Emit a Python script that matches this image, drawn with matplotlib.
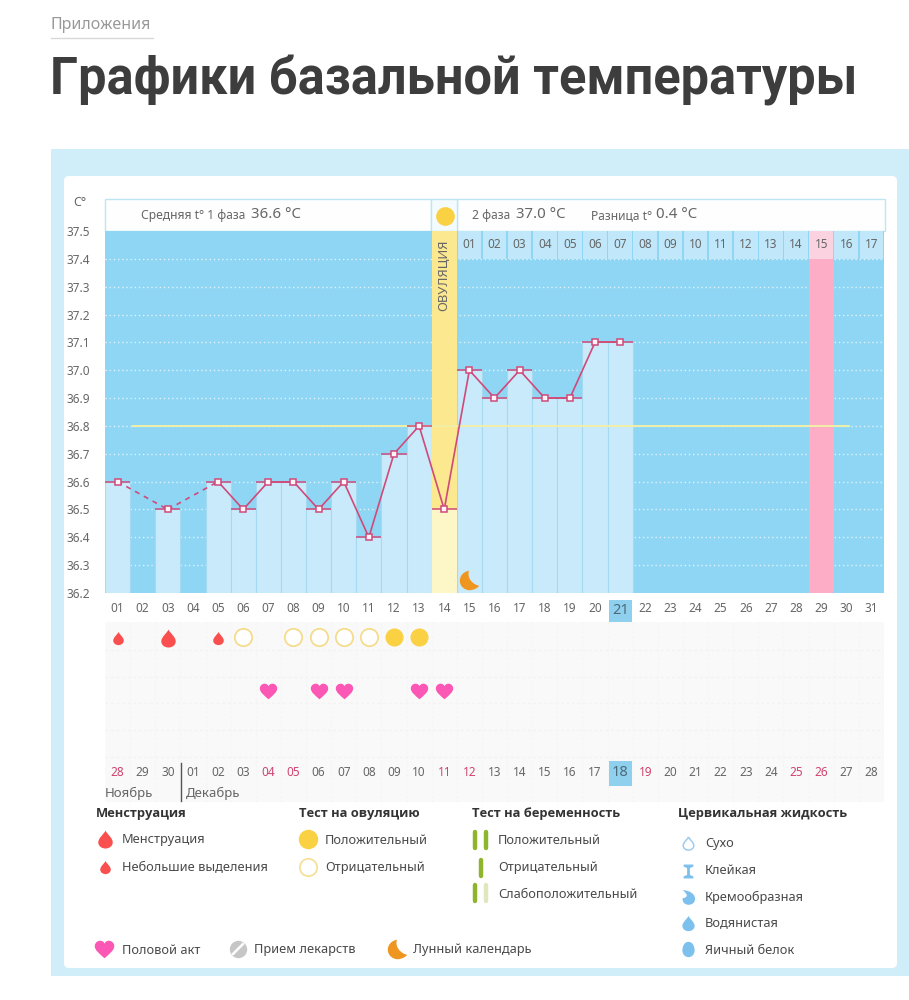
import numpy as np
import matplotlib
matplotlib.use('Agg')
import matplotlib.pyplot as plt
from matplotlib.patches import Rectangle, FancyBboxPatch
from matplotlib.path import Path

plt.rcParams['font.family'] = ['Noto Sans', 'DejaVu Sans']
BOLD = ['Open Sans', 'Roboto', 'DejaVu Sans']
TITLE = ['Roboto', 'Open Sans', 'DejaVu Sans']

W, H = 909, 1000

# --- chart data ---
days = list(range(1, 32))
temps = [36.6, None, 36.5, None, 36.6, 36.5, 36.6, 36.6, 36.5, 36.6, 36.4, 36.7, 36.8,
         36.5, 37.0, 36.9, 37.0, 36.9, 36.9, 37.1, 37.1]
y_ticks = [37.5, 37.4, 37.3, 37.2, 37.1, 37.0, 36.9, 36.8, 36.7, 36.6, 36.5, 36.4, 36.3, 36.2]
cover_line = 36.8
ovulation_day = 14
period_day = 29
today_top = 21
moon_day = 15
moon_temp = 36.247
cycle_labels = ['01', '02', '03', '04', '05', '06', '07', '08', '09', '10', '11', '12',
                '13', '14', '15', '16', '17']
top_labels = ['%02d' % d for d in days]
bottom_labels = ['28', '29', '30'] + ['%02d' % d for d in range(1, 29)]
bottom_red = [1, 7, 8, 14, 15, 22, 28, 29]

menses_heavy = [3]
menses_light = [1, 5]
ovul_pos = [12, 13]
ovul_neg = [6, 8, 9, 10, 11]
intercourse = [7, 9, 10, 13, 14]

# --- colours ---
SKY = '#8fd6f4'
BAR = '#c9eafb'
EDGE = '#a5d9f0'
PINK = '#cf4a7a'
RED = '#f9504f'
YELLOW = '#fad143'
GREY = '#666666'
DARK = '#333333'
GREEN = '#8fb52f'
CERV = '#7cc0ee'
HEART = '#fb57b4'
MOON = '#ef9620'

C4 = Path.CURVE4
drop = Path([(0, 1), (0.15, 0.6), (0.8, 0.2), (0.8, -0.32), (0.8, -0.75), (0.4, -1), (0, -1),
             (-0.4, -1), (-0.8, -0.75), (-0.8, -0.32), (-0.8, 0.2), (-0.15, 0.6), (0, 1)],
            [Path.MOVETO] + [C4] * 12)
heart = Path([(0, -0.9), (-0.5, -0.45), (-1, -0.1), (-1, 0.35), (-1, 0.75), (-0.65, 0.9), (-0.45, 0.9),
              (-0.2, 0.9), (-0.05, 0.75), (0, 0.6), (0.05, 0.75), (0.2, 0.9), (0.45, 0.9),
              (0.65, 0.9), (1, 0.75), (1, 0.35), (1, -0.1), (0.5, -0.45), (0, -0.9)],
             [Path.MOVETO] + [C4] * 18)
moon = Path([(-0.05, 1), (-0.7, 0.9), (-1, 0.4), (-1, 0), (-1, -0.6), (-0.5, -1), (0, -1),
             (0.4, -1), (0.8, -0.8), (1, -0.55), (0.3, -0.4), (-0.3, 0.3), (-0.05, 1)],
            [Path.MOVETO] + [C4] * 12)
sticky = Path([(-0.7, 1), (0.7, 1), (0.7, 0.7), (0.2, 0.5), (0.2, -0.5), (0.7, -0.7), (0.7, -1),
               (-0.7, -1), (-0.7, -0.7), (-0.2, -0.5), (-0.2, 0.5), (-0.7, 0.7), (-0.7, 1)])
cream = Path([(-0.8, 1), (0.1, 1), (0.9, 0.5), (0.9, -0.2), (0.9, -0.7), (0.5, -1), (0, -1),
              (-0.5, -1), (-0.9, -0.6), (-0.8, -0.1), (-0.2, 0), (0.1, 0.3), (-0.8, 1)],
             [Path.MOVETO] + [C4] * 12)
egg = Path([(0, 1), (0.55, 1), (0.8, 0.4), (0.8, -0.1), (0.8, -0.7), (0.4, -1), (0, -1),
            (-0.4, -1), (-0.8, -0.7), (-0.8, -0.1), (-0.8, 0.4), (-0.55, 1), (0, 1)],
           [Path.MOVETO] + [C4] * 12)


def axes_px(x0, y0, x1, y1, **kw):
    # axes placed by pixel box, y counted from the top of the image
    return fig.add_axes([x0 / W, 1 - y1 / H, (x1 - x0) / W, (y1 - y0) / H], **kw)


fig = plt.figure(figsize=(W / 100, H / 100), dpi=100, facecolor='white')

# page layer in pixel coordinates
bg = axes_px(0, 0, W, H)
bg.set_xlim(0, W)
bg.set_ylim(H, 0)
bg.axis('off')
bg.text(51, 25, 'Приложения', fontsize=11.5, color='#999999', va='center')
bg.plot([51, 153], [37.5, 37.5], color='#d8d8d8', lw=1)
bg.text(50, 81, 'Графики базальной температуры', fontsize=36.4, fontweight='bold', family=TITLE,
        color='#3d3d3d', va='center')
bg.add_patch(Rectangle((51, 149), W - 51, 827, fc='#d0edfa', ec='none'))
bg.add_patch(FancyBboxPatch((69, 181), 823, 782, boxstyle='round,pad=5,rounding_size=5', fc='white', ec='none'))
bg.add_patch(Rectangle((105, 199), 326, 32, fc='#fdfefd', ec='#bfe5f5', lw=1))
bg.add_patch(Rectangle((457, 199), 428, 32, fc='#fdfefd', ec='#bfe5f5', lw=1))
bg.add_patch(Rectangle((431, 199), 26, 32, fc='#f4fbfe', ec='#bfe5f5', lw=1))
bg.plot([444.5], [216], 'o', ms=13.5, color=YELLOW, mec='none')
bg.text(80, 203, 'C°', fontsize=9, color=GREY, ha='center', va='center')
for x, y, s, fs in [(141, 216, 'Средняя t° 1 фаза', 8.7), (251, 215, '36.6 °C', 10.8),
                    (472, 216, '2 фаза', 8.7), (516, 215, '37.0 °C', 10.8),
                    (591, 216, 'Разница t°', 8.7), (656, 215, '0.4 °C', 10.8)]:
    bg.text(x, y, s, fontsize=fs, color=GREY, va='center')

# temperature chart
ax = axes_px(105, 231, 884, 593)
ax.set_xlim(0.5, 31.5)
ax.set_ylim(36.2, 37.5)
ax.set_facecolor(SKY)
for s in ax.spines.values():
    s.set_visible(False)
ax.set_xticks([])
ax.set_yticks(y_ticks)
ax.set_yticklabels(['%.1f' % v for v in y_ticks], fontsize=8.5, color=GREY)
ax.tick_params(axis='y', length=0, pad=11)
for v in y_ticks[1:-1]:
    ax.axhline(v, color='white', lw=1, ls=(0, (1, 2)), alpha=0.7, zorder=1)

rec_days = [d for d, t in zip(days, temps) if t is not None]
rec_temps = [t for t in temps if t is not None]
bar_days = [d for d, t in zip(rec_days, rec_temps) if d != ovulation_day]
bar_temps = [t for d, t in zip(rec_days, rec_temps) if d != ovulation_day]
ax.bar(bar_days, np.array(bar_temps) - 36.2, bottom=36.2, width=1, color=BAR, edgecolor=EDGE, lw=0.8, zorder=2)
ov_temp = temps[ovulation_day - 1]
ax.bar(ovulation_day, ov_temp - 36.2, bottom=36.2, width=1, color='#fdf6c6', zorder=2)
ax.bar(ovulation_day, 37.5 - ov_temp, bottom=ov_temp, width=1, color='#fce88e', zorder=2)
ax.bar(period_day, 37.4 - 36.2, bottom=36.2, width=1, color='#fdaec6', zorder=2)
ax.plot([1.6, 30.1], [cover_line, cover_line], color='#f2efa6', lw=1.4, zorder=3)

# cycle day header cells of phase 2
cycle_days = days[ovulation_day:]
ax.bar(cycle_days, 0.1, bottom=37.4, width=0.94,
       color=['#fbd3e0' if d == period_day else '#c0e7fa' for d in cycle_days], zorder=3)
for d, s in zip(cycle_days, cycle_labels):
    ax.text(d, 37.45, s, fontsize=8.5, color=GREY, ha='center', va='center', zorder=4)
ax.text(ovulation_day, 37.34, 'ОВУЛЯЦИЯ', rotation=90, fontsize=9.4, color=GREY, ha='center', va='center', zorder=4)

ax.hlines(rec_temps, np.array(rec_days) - 0.5, np.array(rec_days) + 0.5, color=PINK, lw=1.1, zorder=5)
for i in range(len(rec_days) - 1):
    gap = rec_days[i + 1] - rec_days[i] > 1
    ax.plot(rec_days[i:i + 2], rec_temps[i:i + 2], color=PINK, lw=1.2,
            ls=(0, (3, 3)) if gap else '-', zorder=5)
ax.plot(rec_days, rec_temps, ls='none', marker='s', ms=4.5, mfc='#fff5f8', mec=PINK, mew=1.1, zorder=6)
ax.plot([moon_day], [moon_temp], ls='none', marker=moon, ms=14, color=MOON, mec='none', zorder=6)

# calendar rows below the chart, y axis in image pixels
rows = axes_px(105, 596, 884, 806)
rows.set_xlim(0.5, 31.5)
rows.set_ylim(806, 596)
rows.axis('off')
rows.add_patch(Rectangle((0.5, 622), 31, 180, fc='#f9f9f9', ec='none'))
for y in [650, 677, 703, 730, 757]:
    rows.axhline(y, color='#f3f3f3', lw=1, ls=(0, (2, 2)))
for d in days:
    rows.plot([d + 0.5, d + 0.5], [622, 802], color='#f5f5f5', lw=0.8, ls=(0, (2, 2)))
rows.add_patch(Rectangle((today_top - 0.46, 600), 0.92, 22, fc='#8ed0ee', ec='none'))
rows.add_patch(Rectangle((today_top - 0.46, 761), 0.92, 25, fc='#8ed0ee', ec='none'))
for d, s in zip(days, top_labels):
    big = d == today_top
    rows.text(d, 610 if big else 608, s, fontsize=10.5 if big else 8.5, color='#4d6a78' if big else GREY,
              ha='center', va='center')
for d, s in zip(days, bottom_labels):
    big = d == today_top
    rows.text(d, 773, s, fontsize=10.5 if big else 8.5,
              color='#4d6a78' if big else ('#d0436f' if d in bottom_red else GREY), ha='center', va='center')
rows.text(0.5, 793, 'Ноябрь', fontsize=9.5, color=GREY, ha='left', va='center')
rows.text(3.72, 793, 'Декабрь', fontsize=9.5, color=GREY, ha='left', va='center')
rows.plot([3.52, 3.52], [763, 801], color='#555555', lw=1)

rows.plot(menses_heavy, [638] * len(menses_heavy), ls='none', marker=drop, ms=13, color=RED, mec='none')
rows.plot(menses_light, [638] * len(menses_light), ls='none', marker=drop, ms=9.5, color=RED, mec='none')
rows.plot(ovul_pos, [637] * len(ovul_pos), ls='none', marker='o', ms=13, color=YELLOW, mec='none')
rows.plot(ovul_neg, [637] * len(ovul_neg), ls='none', marker='o', ms=12.5, mfc='white', mec='#f5dc8c', mew=1.3)
rows.plot(intercourse, [691] * len(intercourse), ls='none', marker=heart, ms=12.5, color=HEART, mec='none')

# legend
fs_head = 9.3
fs_item = 9.2
for x, s in [(96, 'Менструация'), (299, 'Тест на овуляцию'), (472, 'Тест на беременность'),
             (678, 'Цервикальная жидкость')]:
    bg.text(x, 814, s, fontsize=fs_head, fontweight='bold', family=BOLD, color=DARK, va='center')
for x, y, s in [(122, 840, 'Менструация'), (122, 868, 'Небольшие выделения'),
                (325, 840, 'Положительный'), (325, 868, 'Отрицательный'),
                (498, 840, 'Положительный'), (498, 868, 'Отрицательный'), (498, 894, 'Слабоположительный'),
                (705, 843, 'Сухо'), (705, 871, 'Клейкая'), (705, 897, 'Кремообразная'),
                (705, 923, 'Водянистая'), (705, 950, 'Яичный белок'),
                (122, 950, 'Половой акт'), (254, 950, 'Прием лекарств'), (413, 950, 'Лунный календарь')]:
    bg.text(x, y, s, fontsize=fs_item, color='#4a4a4a', va='center', zorder=5)
bg.plot([105], [839], marker=drop, ms=13, color=RED, mec='none')
bg.plot([105], [867], marker=drop, ms=9.5, color=RED, mec='none')
bg.plot([308], [839], marker='o', ms=14, color=YELLOW, mec='none')
bg.plot([308], [867], marker='o', ms=12.5, mfc='white', mec='#f5e19a', mew=1.3)
for x, y, c in [(475, 840, GREEN), (486, 840, GREEN), (481, 868, GREEN), (475, 893, GREEN), (486, 893, '#dfe8bd')]:
    bg.plot([x, x], [y - 8, y + 8], color=c, lw=3.2, solid_capstyle='round')
bg.plot([688], [843], marker=drop, ms=9.5, mfc='white', mec='#9ecdf0', mew=1.1)
bg.plot([688], [871], marker=sticky, ms=10, color=CERV, mec='none')
bg.plot([688], [897], marker=cream, ms=10.5, color=CERV, mec='none')
bg.plot([688], [923], marker=drop, ms=11, color=CERV, mec='none')
bg.plot([688], [949], marker=egg, ms=11, color=CERV, mec='none')
bg.plot([104], [949], marker=heart, ms=14, color=HEART, mec='none')
bg.plot([238], [949], marker='o', ms=12.5, color='#c6c6c6', mec='none')
bg.plot([233, 243], [954, 944], color='white', lw=1.8)
bg.plot([397], [949], marker=moon, ms=14, color=MOON, mec='none')

fig.savefig('out.png', dpi=100, facecolor='white')
